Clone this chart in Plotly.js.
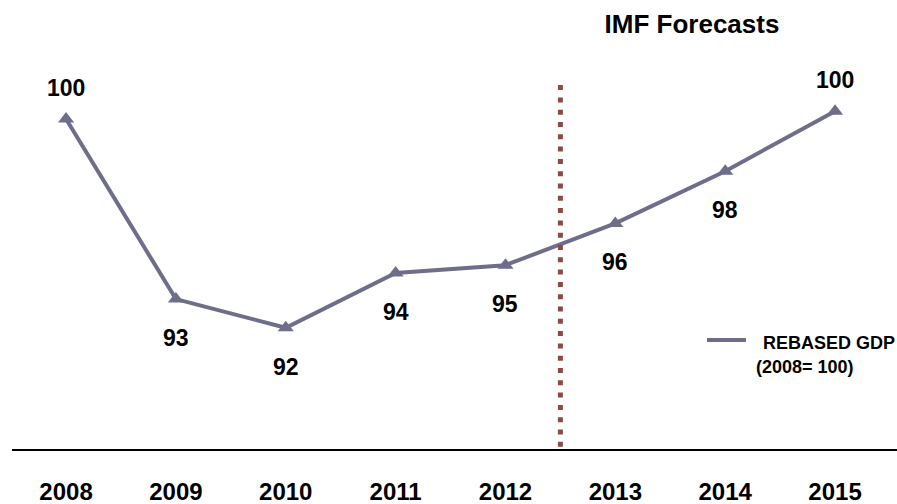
<!DOCTYPE html>
<html>
<head>
<meta charset="utf-8">
<script src="https://cdn.plot.ly/plotly-3.0.1.min.js"></script>
<style>html,body{margin:0;padding:0;background:#fff;}#chart{width:897px;height:504px;}</style>
</head>
<body>
<div id="chart"></div>
<script>
var years = [2008, 2009, 2010, 2011, 2012, 2013, 2014, 2015];
var gdp = [100, 93.1, 92.0, 94.1, 94.4, 96.0, 98.0, 100.3];
var valueLabels = ['100', '93', '92', '94', '95', '96', '98', '100'];
var labelAbove = [true, false, false, false, false, false, false, true];
var tickLabels = ['2008', '2009', '2010', '2011', '2012', '2013', '2014', '2015'];
var forecastStart = 2012.5;
var seriesName = 'REBASED GDP';
var seriesSub = '(2008= 100)';
var titleText = 'IMF Forecasts';

var lineColor = '#6e6e8a';
var FONT = 'Liberation Sans, Arial, sans-serif';

var trace = {
  x: years, y: gdp, type: 'scatter', mode: 'lines+markers',
  line: {color: lineColor, width: 4},
  marker: {symbol: 'triangle-up', size: 14, color: lineColor},
  showlegend: false, hoverinfo: 'skip'
};

var annotations = years.map(function (yr, i) {
  return {
    x: yr, y: gdp[i], xref: 'x', yref: 'y', text: '<b>' + valueLabels[i] + '</b>',
    showarrow: false, font: {family: FONT, size: 23, color: '#000'},
    xanchor: 'center', yanchor: 'middle', yshift: labelAbove[i] ? 31 : -39
  };
});
// legend texts (paper coords)
annotations.push({
  xref: 'paper', yref: 'paper', x: (761 - 12) / 885, y: (449 - 343) / 449,
  xanchor: 'left', yanchor: 'middle', showarrow: false,
  text: '<b>' + seriesName + '</b>', font: {family: FONT, size: 18, color: '#000'}
});
annotations.push({
  xref: 'paper', yref: 'paper', x: (754 - 12) / 885, y: (449 - 367) / 449,
  xanchor: 'left', yanchor: 'middle', showarrow: false,
  text: '<b>' + seriesSub + '</b>', font: {family: FONT, size: 18, color: '#000'}
});

var layout = {
  width: 897, height: 504,
  margin: {l: 12, r: 0, t: 0, b: 55},
  paper_bgcolor: '#fff', plot_bgcolor: '#fff',
  title: {
    text: '<b>' + titleText + '</b>', x: 692 / 897, xanchor: 'center',
    y: 1 - 24 / 504, yanchor: 'middle', xref: 'container', yref: 'container',
    font: {family: FONT, size: 26, color: '#000'}
  },
  xaxis: {
    range: [2007.508, 2015.564], tickvals: years, ticktext: tickLabels.map(function (t) { return '<b>' + t + '</b>'; }),
    showgrid: false, zeroline: false, showline: true, linecolor: '#000', linewidth: 2,
    ticks: '', ticklabelstandoff: 20,
    tickfont: {family: FONT, size: 24, color: '#000'}, fixedrange: true
  },
  yaxis: {
    range: [87.356, 104.56], visible: false, showgrid: false, zeroline: false, fixedrange: true
  },
  shapes: [
    {type: 'line', xref: 'x', yref: 'y', x0: forecastStart, x1: forecastStart, y0: 101.3, y1: 87.4,
     line: {color: '#8b4a42', width: 5, dash: '5px,7.3px'}},
    {type: 'line', xref: 'paper', yref: 'paper', x0: (707 - 12) / 885, x1: (746 - 12) / 885,
     y0: (449 - 340) / 449, y1: (449 - 340) / 449, line: {color: lineColor, width: 4}}
  ],
  annotations: annotations,
  showlegend: false
};

Plotly.newPlot('chart', [trace], layout, {displayModeBar: false, staticPlot: true});
</script>
</body>
</html>
